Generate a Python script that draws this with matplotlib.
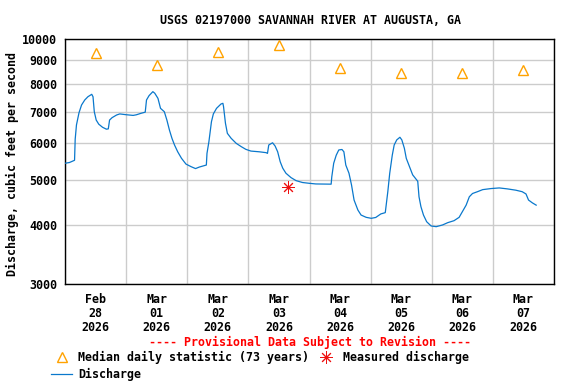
import matplotlib
matplotlib.use("Agg")
import matplotlib.pyplot as plt
from matplotlib.lines import Line2D
import pandas as pd

plt.rcParams["font.family"] = "DejaVu Sans Mono"
plt.rcParams["font.weight"] = "bold"

BLUE = "#0a78cc"
ORANGE = "#ffa200"
RED = "#ee1111"
GRID = "#cccccc"
FS = 8.4

# discharge, cfs (irregular sampling)
q_time = [
    "2026-02-28 00:00", "2026-02-28 01:45", "2026-02-28 03:45", "2026-02-28 04:00",
    "2026-02-28 04:30", "2026-02-28 05:30", "2026-02-28 06:30", "2026-02-28 07:45",
    "2026-02-28 09:00", "2026-02-28 10:30", "2026-02-28 11:00", "2026-02-28 11:30",
    "2026-02-28 12:15", "2026-02-28 13:15", "2026-02-28 14:45", "2026-02-28 16:15",
    "2026-02-28 17:00", "2026-02-28 17:30", "2026-02-28 18:30", "2026-02-28 20:15",
    "2026-02-28 21:30", "2026-03-01 00:00", "2026-03-01 02:45", "2026-03-01 04:00",
    "2026-03-01 06:00", "2026-03-01 07:30", "2026-03-01 08:00", "2026-03-01 09:00",
    "2026-03-01 10:30", "2026-03-01 11:15", "2026-03-01 12:30", "2026-03-01 13:30",
    "2026-03-01 15:00", "2026-03-01 16:00", "2026-03-01 17:00", "2026-03-01 18:00",
    "2026-03-01 19:00", "2026-03-01 20:15", "2026-03-01 21:45", "2026-03-01 23:30",
    "2026-03-02 01:30", "2026-03-02 03:15", "2026-03-02 04:45", "2026-03-02 07:30",
    "2026-03-02 07:45", "2026-03-02 08:30", "2026-03-02 09:30", "2026-03-02 10:15",
    "2026-03-02 11:30", "2026-03-02 13:15", "2026-03-02 14:00", "2026-03-02 14:15",
    "2026-03-02 15:00", "2026-03-02 15:45", "2026-03-02 17:15", "2026-03-02 19:15",
    "2026-03-02 21:15", "2026-03-02 23:00", "2026-03-03 01:00", "2026-03-03 04:15",
    "2026-03-03 07:00", "2026-03-03 07:30", "2026-03-03 08:00", "2026-03-03 09:30",
    "2026-03-03 10:30", "2026-03-03 11:30", "2026-03-03 12:30", "2026-03-03 13:30",
    "2026-03-03 14:45", "2026-03-03 16:45", "2026-03-03 18:45", "2026-03-03 21:15",
    "2026-03-04 00:00", "2026-03-04 02:30", "2026-03-04 08:30", "2026-03-04 08:45",
    "2026-03-04 09:30", "2026-03-04 10:30", "2026-03-04 11:30", "2026-03-04 12:45",
    "2026-03-04 13:30", "2026-03-04 14:15", "2026-03-04 15:30", "2026-03-04 16:30",
    "2026-03-04 17:30", "2026-03-04 19:00", "2026-03-04 20:15", "2026-03-04 22:15",
    "2026-03-05 00:15", "2026-03-05 02:00", "2026-03-05 04:00", "2026-03-05 05:45",
    "2026-03-05 06:45", "2026-03-05 07:30", "2026-03-05 08:30", "2026-03-05 09:15",
    "2026-03-05 10:15", "2026-03-05 11:30", "2026-03-05 12:15", "2026-03-05 13:15",
    "2026-03-05 14:00", "2026-03-05 15:30", "2026-03-05 16:30", "2026-03-05 18:30",
    "2026-03-05 19:00", "2026-03-05 19:45", "2026-03-05 20:45", "2026-03-05 22:00",
    "2026-03-05 23:45", "2026-03-06 01:45", "2026-03-06 04:15", "2026-03-06 06:15",
    "2026-03-06 08:45", "2026-03-06 10:45", "2026-03-06 12:00", "2026-03-06 13:30",
    "2026-03-06 14:45", "2026-03-06 16:00", "2026-03-06 18:00", "2026-03-06 20:00",
    "2026-03-06 23:15", "2026-03-07 02:30", "2026-03-07 05:45", "2026-03-07 09:00",
    "2026-03-07 11:30", "2026-03-07 13:00", "2026-03-07 14:00", "2026-03-07 15:30",
    "2026-03-07 17:00",
]
q_value = [
    5430, 5450, 5510, 6110, 6555, 6960, 7230, 7410, 7530, 7620, 7530, 6995,
    6715, 6580, 6480, 6420, 6430, 6715, 6795, 6883, 6920, 6893, 6870, 6890,
    6945, 6980, 7410, 7570, 7720, 7660, 7470, 7113, 6995, 6715, 6393, 6137,
    5940, 5745, 5563, 5408, 5340, 5290, 5330, 5383, 5700, 6036, 6660, 6920,
    7113, 7266, 7290, 7170, 6610, 6290, 6137, 5987, 5890, 5815, 5765, 5745,
    5720, 5700, 5940, 6005, 5910, 5745, 5470, 5300, 5170, 5060, 4985, 4940,
    4920, 4905, 4900, 5080, 5430, 5650, 5797, 5810, 5745, 5383, 5170, 4880,
    4532, 4315, 4210, 4163, 4143, 4160, 4233, 4260, 4723, 5170, 5650, 5940,
    6090, 6170, 6090, 5845, 5563, 5300, 5130, 4970, 4605, 4387, 4210, 4074,
    3990, 3976, 4010, 4055, 4095, 4163, 4278, 4420, 4605, 4680, 4723, 4770,
    4795, 4810, 4787, 4757, 4722, 4670, 4532, 4470, 4420,
]

# median daily statistic (73 years), plotted at noon
med_time = ["2026-02-28 12:00", "2026-03-01 12:00", "2026-03-02 12:00", "2026-03-03 12:00",
            "2026-03-04 12:00", "2026-03-05 12:00", "2026-03-06 12:00", "2026-03-07 12:00"]
med_value = [9320, 8820, 9360, 9730, 8660, 8480, 8480, 8570]

# field measurement
meas_time = ["2026-03-03 15:30"]
meas_value = [4830]

y_ticks = [3000, 4000, 5000, 6000, 7000, 8000, 9000, 10000]
day_labels = ["Feb\n28\n2026", "Mar\n01\n2026", "Mar\n02\n2026", "Mar\n03\n2026",
              "Mar\n04\n2026", "Mar\n05\n2026", "Mar\n06\n2026", "Mar\n07\n2026"]

fig = plt.figure(figsize=(5.76, 3.84), dpi=100)
ax = fig.add_axes([65 / 576, 1 - 284 / 384, 489 / 576, 245 / 384])

qt = pd.to_datetime(q_time)
ax.plot(qt, q_value, color=BLUE, lw=0.9, zorder=3)
ax.plot(pd.to_datetime(med_time), med_value, ls="none", marker="^", ms=6.5,
        mfc="none", mec=ORANGE, mew=1.0, zorder=4)
ax.plot(pd.to_datetime(meas_time), meas_value, ls="none", marker=(8, 2, 0), ms=9,
        mec=RED, mew=0.7, zorder=4)

ax.set_yscale("log")
ax.set_ylim(3000, 10000)
ax.set_yticks(y_ticks)
ax.set_yticklabels([str(v) for v in y_ticks])
ax.yaxis.set_minor_locator(matplotlib.ticker.NullLocator())

days = pd.date_range("2026-02-28", "2026-03-08", freq="D")
ax.set_xlim(days[0], days[-1])
ax.set_xticks(days)
ax.set_xticklabels([])
ax.set_xticks(days[:-1] + pd.Timedelta(hours=12), minor=True)
ax.set_xticklabels(day_labels, minor=True, linespacing=1.1)

ax.tick_params(axis="x", which="both", length=0, pad=6.5, labelsize=FS)
ax.tick_params(axis="y", length=0, pad=5.5, labelsize=FS)
ax.grid(which="major", color=GRID, lw=1.0, zorder=0)
for s in ax.spines.values():
    s.set_linewidth(1.0)
    s.set_color("black")

fig.text(310 / 576, 1 - 20 / 384, "USGS 02197000 SAVANNAH RIVER AT AUGUSTA, GA",
         ha="center", va="center", fontsize=FS)
fig.text(12 / 576, 1 - 164 / 384, "Discharge, cubic feet per second",
         rotation=90, ha="center", va="center", fontsize=FS)
fig.text(310 / 576, 1 - 342 / 384, "---- Provisional Data Subject to Revision ----",
         ha="center", va="center", fontsize=FS, color="#ff0000")

handles = [
    Line2D([], [], ls="none", marker="^", ms=6.5, mfc="none", mec=ORANGE, mew=1.0),
    Line2D([], [], color=BLUE, lw=0.9),
    Line2D([], [], ls="none", marker=(8, 2, 0), ms=9, mec=RED, mew=0.7),
]
labels = ["Median daily statistic (73 years)", "Discharge", "Measured discharge"]
fig.legend(handles, labels, loc="upper left", bbox_to_anchor=(51 / 576, 1 - 351 / 384),
           ncol=2, frameon=False, fontsize=FS, handlelength=1.8, handletextpad=0.5,
           columnspacing=0.6, labelspacing=0.3, borderpad=0, borderaxespad=0)

fig.savefig("out.png", dpi=100, facecolor="white")
